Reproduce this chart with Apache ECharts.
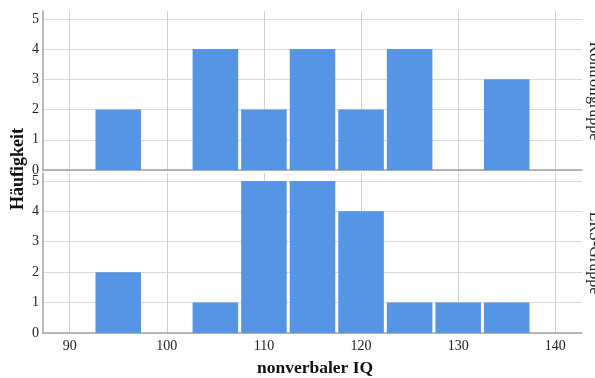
<!DOCTYPE html>
<html>
<head>
<meta charset="utf-8">
<script src="https://cdn.jsdelivr.net/npm/echarts@6/dist/echarts.min.js"></script>
<style>
  html, body { margin: 0; padding: 0; background: #fff; }
  #chart { width: 595px; height: 378px; }
</style>
</head>
<body>
<div id="chart"></div>
<script>
// Histogram bins (nonverbal IQ, width 5) and counts per group
const binCenters = [95, 100, 105, 110, 115, 120, 125, 130, 135];
const kontrollCounts = [2, 0, 4, 2, 4, 2, 4, 0, 3];
const lrsCounts = [2, 0, 1, 5, 5, 4, 1, 1, 1];
const binWidth = 5;
const groupNames = ['Kontrollgruppe', 'LRS-Gruppe'];
const xTitle = 'nonverbaler IQ';
const yTitle = 'Häufigkeit';

const FONT = "'Liberation Serif', 'Times New Roman', serif";
const BAR = '#5595e4';

const chart = echarts.init(document.getElementById('chart'), null, { renderer: 'canvas' });

function toData(counts) {
  return binCenters.map((c, i) => [c, counts[i]]);
}

function renderBin(params, api) {
  const c = api.value(0);
  const n = api.value(1);
  if (!n) return null;
  const topLeft = api.coord([c - binWidth / 2, n]);
  const bottomRight = api.coord([c + binWidth / 2, 0]);
  const inset = 1.5;
  return {
    type: 'rect',
    shape: {
      x: topLeft[0] + inset,
      y: topLeft[1],
      width: bottomRight[0] - topLeft[0] - 2 * inset,
      height: bottomRight[1] - topLeft[1]
    },
    style: { fill: BAR }
  };
}

function xAxis(gridIndex, showLabels) {
  return {
    type: 'value',
    gridIndex,
    min: 87.25,
    max: 142.75,
    splitNumber: 5,
    axisLine: { show: true, lineStyle: { color: '#a3a3a3', width: 1.5 } },
    axisTick: { show: false },
    axisLabel: {
      show: showLabels,
      showMinLabel: false,
      showMaxLabel: false,
      formatter: v => (v % 10 === 0 ? String(v) : ''),
      fontFamily: FONT,
      fontSize: 14,
      color: '#222',
      margin: 6
    },
    splitLine: {
      show: true,
      showMinLine: false,
      showMaxLine: false,
      lineStyle: { color: '#cfcfcf', width: 1 }
    }
  };
}

function yAxis(gridIndex) {
  return {
    type: 'value',
    gridIndex,
    min: 0,
    max: 5.26,
    interval: 1,
    axisLine: { show: true, lineStyle: { color: '#a3a3a3', width: 1.5 } },
    axisTick: { show: false },
    axisLabel: {
      showMaxLabel: false,
      fontFamily: FONT,
      fontSize: 14,
      color: '#222',
      margin: 4
    },
    splitLine: {
      show: true,
      showMaxLine: false,
      lineStyle: { color: '#dadada', width: 1.2 }
    }
  };
}

chart.setOption({
  animation: false,
  backgroundColor: '#fff',
  grid: [
    { left: 43, width: 539, top: 11, height: 159 },
    { left: 43, width: 539, top: 173, height: 160 }
  ],
  xAxis: [xAxis(0, false), xAxis(1, true)],
  yAxis: [yAxis(0), yAxis(1)],
  series: [
    {
      type: 'custom',
      name: groupNames[0],
      xAxisIndex: 0,
      yAxisIndex: 0,
      renderItem: renderBin,
      encode: { x: 0, y: 1 },
      data: toData(kontrollCounts)
    },
    {
      type: 'custom',
      name: groupNames[1],
      xAxisIndex: 1,
      yAxisIndex: 1,
      renderItem: renderBin,
      encode: { x: 0, y: 1 },
      data: toData(lrsCounts)
    }
  ],
  graphic: [
    {
      type: 'text',
      x: 315, y: 368,
      style: {
        text: xTitle,
        font: 'bold 17.5px ' + FONT,
        fill: '#111',
        align: 'center',
        verticalAlign: 'middle'
      }
    },
    {
      type: 'text',
      x: 18, y: 169,
      rotation: Math.PI / 2,
      style: {
        text: yTitle,
        font: 'bold 18px ' + FONT,
        fill: '#111',
        align: 'center',
        verticalAlign: 'middle'
      }
    },
    {
      type: 'text',
      x: 594, y: 91,
      rotation: -Math.PI / 2,
      style: {
        text: groupNames[0],
        font: '16px ' + FONT,
        fill: '#222',
        align: 'center',
        verticalAlign: 'middle'
      }
    },
    {
      type: 'text',
      x: 594, y: 253,
      rotation: -Math.PI / 2,
      style: {
        text: groupNames[1],
        font: '16px ' + FONT,
        fill: '#222',
        align: 'center',
        verticalAlign: 'middle'
      }
    }
  ]
});
</script>
</body>
</html>
